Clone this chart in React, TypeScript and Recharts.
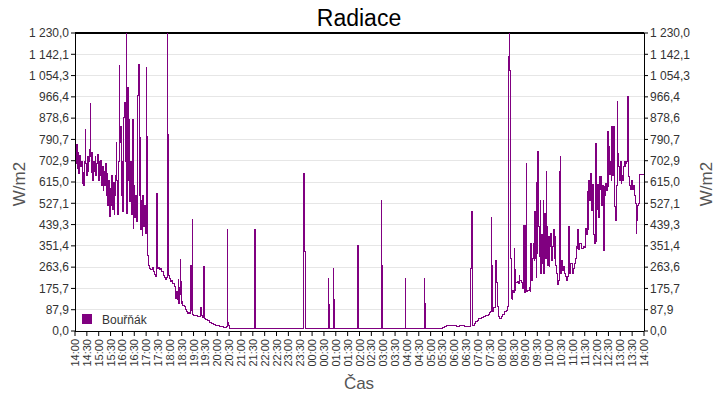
import { CartesianGrid, Line, LineChart, ReferenceLine, XAxis, YAxis } from 'recharts';

// minutes after 14:00, W/m2
const afternoon: [number, number][] = [
  [0, 745], [2, 690], [4, 770], [6, 672], [8, 735], [10, 650], [12, 725], [14, 680],
  [16, 700], [18, 610], [20, 655], [22, 600], [24, 700], [26, 830], [27, 690], [29, 640],
  [31, 720], [33, 660], [35, 700], [37, 750], [38, 938], [39, 720], [41, 655], [43, 735],
  [45, 620], [47, 700], [49, 660], [51, 720], [53, 640], [55, 690], [57, 728], [59, 620],
  [61, 700], [63, 640], [65, 705], [67, 600], [69, 680], [71, 580], [73, 660], [75, 600],
  [77, 690], [79, 560], [81, 650], [83, 520], [85, 620], [87, 472], [89, 590], [91, 520],
  [93, 640], [95, 500], [97, 615], [99, 480], [101, 560], [103, 640], [104, 776], [106, 620],
  [108, 480], [110, 700], [112, 1094], [113, 780], [115, 845], [117, 560], [119, 700], [121, 493],
  [123, 880], [125, 942], [127, 700], [128, 894], [130, 1230], [131, 485], [132, 850], [133, 1004],
  [135, 620], [137, 873], [139, 534], [141, 700], [143, 480], [145, 873], [147, 424], [149, 600],
  [151, 470], [153, 560], [155, 450], [157, 700], [159, 970], [161, 1101], [162, 560], [164, 797],
  [166, 420], [168, 540], [170, 395], [172, 560], [174, 430], [176, 520], [178, 404], [180, 640],
  [181, 1088], [182, 804], [183, 389], [184, 313],
];

const evening: [number, number][] = [
  [186, 270], [189, 258], [192, 252], [195, 262], [198, 245], [201, 235], [204, 224], [206, 230],
  [207, 569], [208, 260], [211, 262], [214, 255], [217, 258], [220, 245], [223, 231], [226, 220],
  [229, 211], [232, 222], [234, 1230], [235, 813], [236, 231], [239, 215], [242, 204], [245, 210],
  [248, 197], [251, 190], [253, 183], [255, 135], [257, 165], [259, 128], [262, 211], [263, 114],
  [265, 180], [266, 296], [267, 150], [268, 204], [269, 114], [271, 120], [273, 107], [276, 100],
  [279, 87], [282, 80], [285, 73], [288, 78], [291, 73], [293, 272], [295, 85], [297, 462],
  [298, 70], [301, 66], [305, 62], [310, 60], [315, 58], [318, 98], [319, 62], [322, 55],
  [326, 268], [327, 52], [330, 48], [335, 42], [340, 37], [345, 32], [350, 28], [355, 24],
  [360, 21], [365, 19], [370, 17], [375, 16], [380, 16], [384, 18], [385, 417], [386, 215],
  [387, 36], [388, 22],
];

const night: [number, number][] = [
  [390, 11], [454, 265], [455.5, 417], [457, 11], [578, 215], [579.5, 651], [581, 330], [582.5, 11],
  [641, 215], [642.5, 110], [644, 11], [653.5, 256], [655, 132], [656.5, 11], [714.5, 182], [716, 351],
  [717.5, 11], [775, 537], [776.5, 272], [778, 11], [836, 215], [837.5, 11], [884, 215], [885.5, 112],
  [887, 11],
];

const dawn: [number, number][] = [
  [928, 11], [930, 15], [936, 18], [941, 22], [946, 24], [953, 23], [960, 23], [966, 20],
  [972, 23], [980, 23], [986, 18], [992, 17], [1000, 18], [1002, 256], [1004, 495], [1006, 24],
  [1010, 30], [1014, 40], [1018, 45], [1022, 50], [1028, 55], [1034, 60], [1040, 66], [1046, 70],
  [1050, 75], [1052, 80], [1053, 468], [1055, 272], [1057, 80], [1060, 98], [1063, 200], [1065, 293],
  [1067, 200], [1069, 100], [1072, 60], [1075, 52], [1079, 60], [1083, 70], [1087, 80], [1091, 85],
  [1094, 100],
];

const morning: [number, number][] = [
  [1096, 850], [1097, 1135], [1098.5, 1230], [1100, 1077], [1101, 850], [1102, 493], [1103, 300], [1104, 135],
  [1106, 128], [1108, 169], [1110, 160], [1112, 341], [1113, 169], [1115, 252], [1116, 200], [1119, 204],
  [1122, 197], [1124, 231], [1126, 210], [1129, 200], [1132, 176], [1134, 180], [1136, 437], [1138, 160],
  [1140, 437], [1141.5, 692], [1143, 162], [1146, 169], [1149, 180], [1152, 162], [1154, 362], [1156, 210],
  [1158, 300], [1160, 362], [1162, 293], [1164, 493], [1166, 300], [1167, 458], [1168, 220], [1169, 612],
  [1170, 320], [1171.5, 740], [1173, 431], [1175, 307], [1177, 540], [1179, 238], [1181, 400], [1183, 280],
  [1184.5, 540], [1186, 238], [1188, 485], [1190, 300], [1192, 658], [1194, 431], [1196, 270], [1198, 389],
  [1200, 265], [1202, 350], [1204, 403], [1206, 293], [1208, 350], [1211, 417], [1213, 300], [1215, 389],
  [1217, 270], [1219, 238], [1221, 190], [1223, 210], [1225, 250], [1226, 658], [1228, 720], [1229, 238],
  [1231, 293], [1233, 250], [1236, 265], [1238, 238], [1241, 224], [1244, 210], [1247, 224], [1249, 431],
  [1250.5, 314], [1252, 238], [1255, 279], [1258, 238], [1261, 259], [1263, 279], [1266, 300], [1268, 348],
  [1270, 340], [1272, 417], [1274, 335], [1278, 360], [1282, 340], [1286, 350], [1290, 345], [1292, 424],
  [1295, 400], [1297, 575], [1299, 420], [1300, 623], [1302, 540], [1304, 651], [1306, 610], [1307, 499],
  [1309, 603], [1311, 560], [1313, 400], [1315, 360], [1317, 600], [1318, 775], [1319.5, 369], [1321, 500],
  [1323, 603], [1325, 470], [1327, 637], [1329, 582], [1331, 637], [1333, 520], [1335, 600], [1337, 334],
  [1339, 596], [1341, 560], [1343, 610], [1345, 580], [1347, 823], [1349, 596], [1351, 761], [1353, 644],
  [1355, 700], [1357, 623], [1359, 843], [1361, 640], [1362, 733], [1364, 843], [1366, 513], [1368, 458],
  [1370, 600], [1372, 947], [1374, 733], [1376, 678], [1378, 623], [1380, 700], [1382, 610], [1384, 640],
  [1386, 620], [1388, 678], [1390, 699], [1392, 680], [1394, 690], [1396, 699], [1398, 760], [1399, 967],
  [1400.5, 788], [1402, 637], [1404, 600], [1406, 582], [1408, 620], [1410, 600], [1412, 582], [1414, 600],
  [1416, 560], [1418, 527], [1420, 403], [1421.5, 458], [1423, 520], [1425, 527], [1428, 644], [1435, 648],
  [1440, 650],
];

const timeLabels = [
  '14:00', '14:30', '15:00', '15:30', '16:00', '16:30', '17:00', '17:30', '18:00', '18:30',
  '19:00', '19:30', '20:00', '20:30', '21:00', '21:30', '22:00', '22:30', '23:00', '23:30',
  '00:00', '00:30', '01:00', '01:30', '02:00', '02:30', '03:00', '03:30', '04:00', '04:30',
  '05:00', '05:30', '06:00', '06:30', '07:00', '07:30', '08:00', '08:30', '09:00', '09:30',
  '10:00', '10:30', '11:00', '11:30', '12:00', '12:30', '13:00', '13:30', '14:00',
];

const yTicks = [
  0, 87.86, 175.71, 263.57, 351.43, 439.29, 527.14, 615, 702.86, 790.71, 878.57, 966.43,
  1054.29, 1142.14, 1230,
];

const seriesName = 'Bouřňák';
const purple = '#800080';
const font = '"Liberation Sans", Arial, sans-serif';

const data = [...afternoon, ...evening, ...night, ...dawn, ...morning].map(([t, v]) => ({ t, v }));
const xTicks = timeLabels.map((_, i) => i * 30);
const yMax = yTicks[yTicks.length - 1];

const formatY = (v: number) => {
  const [i, d] = v.toFixed(1).split('.');
  return i.replace(/\B(?=(\d{3})+(?!\d))/g, ' ') + ',' + d;
};

const TimeTick = (props: any) => {
  const { x, y, payload, index } = props;
  return (
    <text
      x={x}
      y={y}
      transform={`rotate(-90, ${x}, ${y})`}
      textAnchor="end"
      dominantBaseline="central"
      fontSize={11}
      fontFamily={font}
      fill="#333"
    >
      {timeLabels[index] ?? payload.value}
    </text>
  );
};

const yTickStyle = { fill: '#333', fontSize: 12, fontFamily: font };
const axisLine = { stroke: '#000', shapeRendering: 'crispEdges' };

export default function App() {
  return (
    <div style={{ position: 'absolute', left: 0, top: 0, width: 720, height: 400, background: '#fff' }}>
      <LineChart width={720} height={400} data={data} margin={{ top: 33, right: 0, bottom: 0, left: 0 }}>
        <CartesianGrid vertical={false} stroke="#e6e6e6" shapeRendering="crispEdges" yAxisId="left" xAxisId="bottom" />
        <XAxis
          xAxisId="bottom"
          dataKey="t"
          type="number"
          domain={[0, 1440]}
          ticks={xTicks}
          interval={0}
          height={69}
          tick={<TimeTick />}
          tickSize={5}
          tickMargin={3}
          stroke="#000"
          axisLine={axisLine}
        />
        <YAxis
          yAxisId="left"
          width={75}
          domain={[0, yMax]}
          ticks={yTicks}
          interval={0}
          tickFormatter={formatY}
          tickSize={4}
          tickMargin={2}
          stroke="#000"
          axisLine={axisLine}
          tick={yTickStyle}
        />
        <YAxis
          yAxisId="right"
          orientation="right"
          width={76}
          domain={[0, yMax]}
          ticks={yTicks}
          interval={0}
          tickFormatter={formatY}
          tickSize={4}
          tickMargin={2}
          stroke="#000"
          axisLine={axisLine}
          tick={yTickStyle}
        />
        {/* top edge of the plot frame */}
        <ReferenceLine
          xAxisId="bottom"
          yAxisId="left"
          y={yMax}
          ifOverflow="visible"
          stroke="#000"
          strokeWidth={1.2}
          shapeRendering="crispEdges"
        />
        {/* invisible copy so the right axis gets drawn */}
        <Line
          xAxisId="bottom"
          yAxisId="right"
          type="stepAfter"
          dataKey="v"
          stroke="none"
          dot={false}
          activeDot={false}
          legendType="none"
          isAnimationActive={false}
        />
        <Line
          xAxisId="bottom"
          yAxisId="left"
          type="stepAfter"
          dataKey="v"
          name={seriesName}
          stroke={purple}
          strokeWidth={1}
          shapeRendering="crispEdges"
          dot={false}
          isAnimationActive={false}
        />
      </LineChart>
      <svg width={720} height={400} style={{ position: 'absolute', left: 0, top: 0, pointerEvents: 'none' }} fontFamily={font}>
        <text x={359} y={26} textAnchor="middle" fontSize={23} fill="#000">Radiace</text>
        <text x={25} y={184} transform="rotate(-90, 25, 184)" textAnchor="middle" fontSize={17} fill="#555">W/m2</text>
        <text x={712} y={184} transform="rotate(-90, 712, 184)" textAnchor="middle" fontSize={17} fill="#555">W/m2</text>
        <text x={359} y={389} textAnchor="middle" fontSize={17} fill="#555">Čas</text>
        <rect x={82} y={314} width={10} height={10} fill={purple} />
        <text x={102} y={323.5} fontSize={12} fill="#333">{seriesName}</text>
      </svg>
    </div>
  );
}
